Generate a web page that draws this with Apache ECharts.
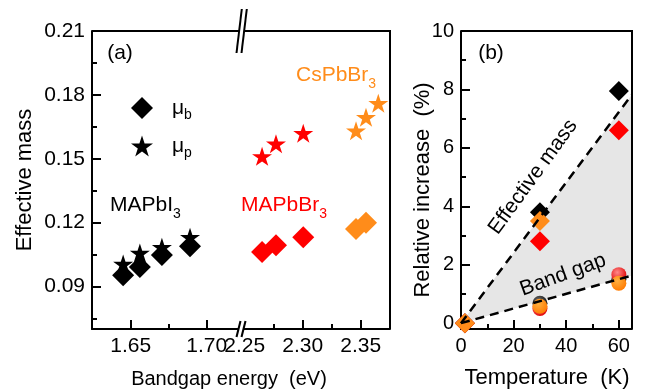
<!DOCTYPE html>
<html>
<head>
<meta charset="utf-8">
<script src="https://cdn.jsdelivr.net/npm/echarts@6/dist/echarts.min.js"></script>
<style>
  html, body { margin: 0; padding: 0; background: #ffffff; }
  #chart { width: 652px; height: 392px; }
</style>
</head>
<body>
<div id="chart"></div>
<script>
// ---------- Panel (a): effective mass vs. band gap energy ----------
// MAPbI3
const miGap = [1.645, 1.656, 1.6705, 1.689];
const miMuB = [0.0952, 0.0991, 0.1048, 0.1089];
const miMuP = [0.1005, 0.1057, 0.1084, 0.1131];
// MAPbBr3
const mbGap = [2.265, 2.277, 2.3005];
const mbMuB = [0.1062, 0.1093, 0.1131];
const mbMuP = [0.1511, 0.1570, 0.1620];
// CsPbBr3
const csGapB = [2.346, 2.3546];
const csMuB = [0.1170, 0.1199];
const csGapP = [2.346, 2.3546, 2.3652];
const csMuP = [0.1631, 0.1695, 0.1761];

// tick values, panel (a)
const aYTicks = [0.09, 0.12, 0.15, 0.18, 0.21];
const aYMinor = [0.075, 0.105, 0.135, 0.165, 0.195];
const aX1Ticks = [1.65, 1.70];
const aX1Labels = [1.65, 1.70];
const aX1Minor = [1.675];
const aX2Ticks = [2.30, 2.35];
const aX2Labels = [2.25, 2.30, 2.35];
const aX2Minor = [2.275, 2.325];

// ---------- Panel (b): relative increase vs. temperature ----------
const massTemps = [1.5, 30, 60];
const massIncMAPbI = [0, 3.8, 7.95];
const massIncMAPbBr = [0, 2.8, 6.6];
const massTempsCs = [1.5, 30];
const massIncCs = [0, 3.5];
const gapTemps = [30, 60];
const gapIncMAPbI = [0.68, 1.5];
const gapIncMAPbBr = [0.5, 1.66];
const gapIncCs = [0.58, 1.37];
// linear trends (temperature, %)
const massTrend = [[0, 0], [65, 7.83]];
const gapTrend = [[0, 0], [65, 1.63]];

// tick values, panel (b)
const bXTicks = [0, 20, 40, 60];
const bXMinor = [10, 30, 50];
const bYTicks = [0, 2, 4, 6, 8, 10];
const bYMinor = [1, 3, 5, 7, 9];

// ---------- styling ----------
const FONT = '"Liberation Sans", Arial, sans-serif';
const BLACK = '#000000', RED = '#ff0000', ORANGE = '#ff8c1a';
const STAR = 'path://M48 0L59.23 34.55L95.55 34.55L66.17 55.9L77.39 90.45L48 69.1L18.61 90.45L29.83 55.9L0.45 34.55L36.77 34.55Z';

// plot rectangles (px)
const A = { left: 92, top: 31, brk: 242, right: 390, bottom: 329 };
const B = { left: 461, top: 31, right: 632, bottom: 329 };

const zip = (xs, ys) => xs.map((x, i) => [x, ys[i]]);

const LINE = { color: BLACK, width: 2 };
function mainAxis(gridIndex, min, max, ticks, labels, digits, fontSize) {
  return {
    type: 'value', gridIndex, min, max,
    axisLine: { show: true, onZero: false, lineStyle: LINE },
    axisTick: { show: true, inside: true, length: 9, lineStyle: LINE, customValues: ticks },
    axisLabel: {
      show: true, customValues: labels, margin: 7,
      formatter: v => Number(v).toFixed(digits),
      fontFamily: FONT, fontSize, color: BLACK
    },
    splitLine: { show: false }
  };
}
function minorAxis(gridIndex, min, max, ticks) {
  return {
    type: 'value', gridIndex, min, max,
    axisLine: { show: false, onZero: false },
    axisTick: { show: true, inside: true, length: 5, lineStyle: LINE, customValues: ticks },
    axisLabel: { show: false },
    splitLine: { show: false }
  };
}
function hiddenAxis(gridIndex, min, max) {
  return { type: 'value', gridIndex, min, max, show: false, axisLine: { onZero: false }, splitLine: { show: false } };
}

const AX1 = [1.6245, 1.7232], AX2 = [2.2477, 2.3753], AY = [0.07, 0.21];
const BX = [0, 65], BY = [-0.2, 10];

const gridA1 = { left: A.left, top: A.top, width: A.brk - A.left, height: A.bottom - A.top, outerBoundsMode: 'none' };
const gridA2 = { left: A.brk, top: A.top, width: A.right - A.brk, height: A.bottom - A.top, outerBoundsMode: 'none' };
const gridB = { left: B.left, top: B.top, width: B.right - B.left, height: B.bottom - B.top, outerBoundsMode: 'none' };

function ballColor(light, dark) {
  return new echarts.graphic.RadialGradient(0.4, 0.35, 0.7, [
    { offset: 0, color: light }, { offset: 1, color: dark }
  ]);
}
function solid(color) {
  return { color, opacity: 1 };
}

function subText(main, sub, size) {
  return {
    text: '{n|' + main + '}{s|' + sub + '}',
    rich: {
      n: { font: size + 'px ' + FONT, lineHeight: size, verticalAlign: 'top' },
      s: { font: Math.round(size * 0.66) + 'px ' + FONT, lineHeight: Math.round(size * 0.66), padding: [Math.round(size * 0.55), 0, 0, 0], verticalAlign: 'top' }
    }
  };
}
function label(x, y, text, size, color, extra) {
  return Object.assign({
    type: 'text', x, y, z: 50, silent: true,
    style: { text, font: size + 'px ' + FONT, fill: color, align: 'center', verticalAlign: 'middle', textAlign: 'center', textVerticalAlign: 'middle' }
  }, extra || {});
}
function leftLabel(x, y, content, color) {
  return {
    type: 'text', x, y, z: 50, silent: true,
    style: Object.assign({ fill: color, align: 'left', verticalAlign: 'top', textAlign: 'left', textVerticalAlign: 'top' }, content)
  };
}

const option = {
  animation: false,
  backgroundColor: '#ffffff',
  grid: [gridA1, gridA2, gridB, gridA1, gridA2, gridB],
  xAxis: [
    mainAxis(0, AX1[0], AX1[1], aX1Ticks, aX1Labels, 2, 21),
    mainAxis(1, AX2[0], AX2[1], aX2Ticks, aX2Labels, 2, 21),
    mainAxis(2, BX[0], BX[1], bXTicks, bXTicks, 0, 20),
    minorAxis(3, AX1[0], AX1[1], aX1Minor),
    minorAxis(4, AX2[0], AX2[1], aX2Minor),
    minorAxis(5, BX[0], BX[1], bXMinor)
  ],
  yAxis: [
    mainAxis(0, AY[0], AY[1], aYTicks, aYTicks, 2, 21),
    hiddenAxis(1, AY[0], AY[1]),
    mainAxis(2, BY[0], BY[1], bYTicks, bYTicks, 0, 20),
    minorAxis(3, AY[0], AY[1], aYMinor),
    hiddenAxis(4, AY[0], AY[1]),
    minorAxis(5, BY[0], BY[1], bYMinor)
  ],
  legend: {
    orient: 'vertical', left: 126, top: 92,
    itemWidth: 22, itemHeight: 22, itemGap: 13,
    selectedMode: false,
    data: [{ name: 'μb', icon: 'diamond' }, { name: 'μp', icon: STAR }],
    formatter: name => '{m|μ}{s|' + name.slice(1) + '}',
    textStyle: {
      color: BLACK, fontFamily: FONT,
      rich: {
        m: { fontSize: 21, lineHeight: 21, verticalAlign: 'top', padding: [0, 0, 0, 14], fontFamily: FONT },
        s: { fontSize: 14, lineHeight: 14, verticalAlign: 'top', padding: [11, 0, 0, 0], fontFamily: FONT }
      }
    }
  },
  series: [
    // panel (a)
    { name: 'μp', type: 'scatter', xAxisIndex: 0, yAxisIndex: 0, symbol: STAR, symbolSize: [20, 19],
      itemStyle: solid(BLACK), data: zip(miGap, miMuP) },
    { name: 'μb', type: 'scatter', xAxisIndex: 0, yAxisIndex: 0, symbol: 'diamond', symbolSize: 22,
      itemStyle: solid(BLACK), data: zip(miGap, miMuB) },
    { name: 'MAPbBr3 μp', type: 'scatter', xAxisIndex: 1, yAxisIndex: 1, symbol: STAR, symbolSize: [20, 19],
      itemStyle: solid(RED), data: zip(mbGap, mbMuP) },
    { name: 'MAPbBr3 μb', type: 'scatter', xAxisIndex: 1, yAxisIndex: 1, symbol: 'diamond', symbolSize: 22,
      itemStyle: solid(RED), data: zip(mbGap, mbMuB) },
    { name: 'CsPbBr3 μp', type: 'scatter', xAxisIndex: 1, yAxisIndex: 1, symbol: STAR, symbolSize: [20, 19],
      itemStyle: solid(ORANGE), data: zip(csGapP, csMuP) },
    { name: 'CsPbBr3 μb', type: 'scatter', xAxisIndex: 1, yAxisIndex: 1, symbol: 'diamond', symbolSize: 22,
      itemStyle: solid(ORANGE), data: zip(csGapB, csMuB) },

    // panel (b): shaded wedge between the two trends
    { name: 'wedge', type: 'custom', xAxisIndex: 2, yAxisIndex: 2, silent: true, z: 1,
      data: [[0, 0]],
      renderItem: (params, api) => {
        const pts = massTrend.map(p => api.coord(p))
          .concat(gapTrend.slice().reverse().map(p => api.coord(p)));
        return { type: 'polygon', shape: { points: pts }, style: { fill: '#e6e6e6' } };
      } },
    { name: 'mass MAPbI3', type: 'scatter', xAxisIndex: 2, yAxisIndex: 2, symbol: 'diamond', symbolSize: 20,
      itemStyle: solid(BLACK), data: zip(massTemps, massIncMAPbI) },
    { name: 'mass MAPbBr3', type: 'scatter', xAxisIndex: 2, yAxisIndex: 2, symbol: 'diamond', symbolSize: 20,
      itemStyle: solid(RED), data: zip(massTemps, massIncMAPbBr) },
    { name: 'mass CsPbBr3', type: 'scatter', xAxisIndex: 2, yAxisIndex: 2, symbol: 'diamond', symbolSize: 20,
      itemStyle: solid(ORANGE), data: zip(massTempsCs, massIncCs) },
    { name: 'gap MAPbI3', type: 'scatter', xAxisIndex: 2, yAxisIndex: 2, symbol: 'circle', symbolSize: 15,
      itemStyle: solid(ballColor('#777777', '#000000')), data: zip(gapTemps, gapIncMAPbI) },
    { name: 'gap MAPbBr3', type: 'scatter', xAxisIndex: 2, yAxisIndex: 2, symbol: 'circle', symbolSize: 15,
      itemStyle: solid(ballColor('#ff8a8a', '#e00000')), data: zip(gapTemps, gapIncMAPbBr) },
    { name: 'gap CsPbBr3', type: 'scatter', xAxisIndex: 2, yAxisIndex: 2, symbol: 'circle', symbolSize: 15,
      itemStyle: solid(ballColor('#ffb040', '#ff7a00')), data: zip(gapTemps, gapIncCs) },
    { name: 'mass trend', type: 'line', xAxisIndex: 2, yAxisIndex: 2, z: 5, symbol: 'none', silent: true,
      lineStyle: { color: BLACK, width: 2.5, type: [9, 6] }, data: massTrend },
    { name: 'gap trend', type: 'line', xAxisIndex: 2, yAxisIndex: 2, z: 5, symbol: 'none', silent: true,
      lineStyle: { color: BLACK, width: 2.5, type: [9, 6] }, data: gapTrend }
  ],
  graphic: [
    // frames (top and right edges)
    { type: 'polyline', z: 40, silent: true, shape: { points: [[A.left, A.top], [A.right, A.top], [A.right, A.bottom]] },
      style: { stroke: BLACK, lineWidth: 2, fill: null } },
    { type: 'polyline', z: 40, silent: true, shape: { points: [[B.left, B.top], [B.right, B.top], [B.right, B.bottom]] },
      style: { stroke: BLACK, lineWidth: 2, fill: null } },
    // axis breaks
    { type: 'polygon', z: 60, silent: true, shape: { points: [[239.0, 33.5], [239.6, 28.5], [244.6, 28.5], [244.0, 33.5]] },
      style: { fill: '#ffffff' } },
    { type: 'line', z: 61, silent: true, shape: { x1: 236.5, y1: 53, x2: 241.8, y2: 9 }, style: { stroke: BLACK, lineWidth: 2 } },
    { type: 'line', z: 61, silent: true, shape: { x1: 241.5, y1: 53, x2: 246.8, y2: 9 }, style: { stroke: BLACK, lineWidth: 2 } },
    { type: 'polygon', z: 60, silent: true, shape: { points: [[237.9, 331.5], [239.1, 326.5], [244.1, 326.5], [242.9, 331.5]] },
      style: { fill: '#ffffff' } },
    { type: 'line', z: 61, silent: true, shape: { x1: 236.5, y1: 337, x2: 240.5, y2: 321 }, style: { stroke: BLACK, lineWidth: 2 } },
    { type: 'line', z: 61, silent: true, shape: { x1: 241.5, y1: 337, x2: 245.5, y2: 321 }, style: { stroke: BLACK, lineWidth: 2 } },

    // panel tags
    label(120, 53, '(a)', 21, BLACK),
    label(491, 53, '(b)', 21, BLACK),

    // compound labels
    leftLabel(110, 195, subText('MAPbI', '3', 21), BLACK),
    leftLabel(241, 195, subText('MAPbBr', '3', 21), RED),
    leftLabel(296, 65, subText('CsPbBr', '3', 21), ORANGE),

    // in-plot annotations, panel (b)
    label(533, 177, 'Effective mass', 21, BLACK, { rotation: 54 * Math.PI / 180 }),
    label(563, 275, 'Band gap', 21, BLACK, { rotation: 20 * Math.PI / 180 }),

    // axis titles
    label(25, 180, 'Effective mass', 22, BLACK, { rotation: Math.PI / 2 }),
    label(229, 379, 'Bandgap energy  (eV)', 20, BLACK),
    label(423, 190, 'Relative increase  (%)', 22, BLACK, { rotation: Math.PI / 2 }),
    label(547, 378, 'Temperature  (K)', 22, BLACK)
  ]
};

const chart = echarts.init(document.getElementById('chart'), null, { renderer: 'canvas' });
chart.setOption(option);
</script>
</body>
</html>
